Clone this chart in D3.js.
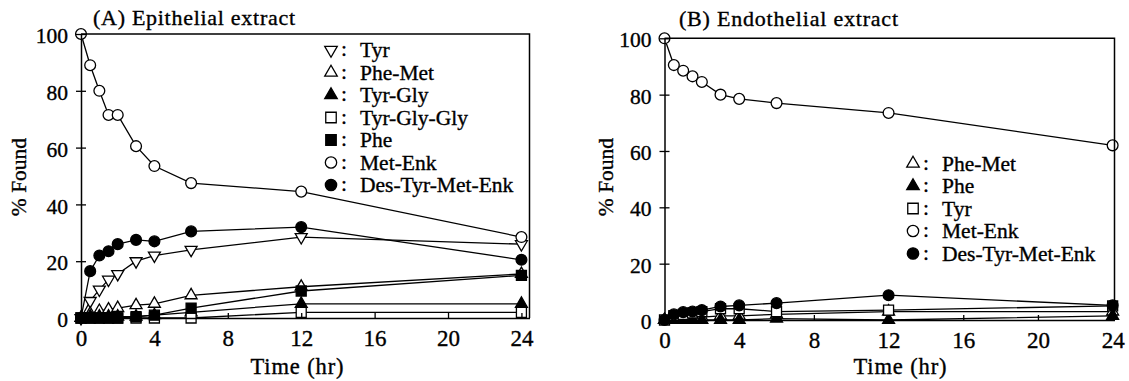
<!DOCTYPE html>
<html>
<head>
<meta charset="utf-8">
<script src="https://cdn.jsdelivr.net/npm/d3@7/dist/d3.min.js"></script>
<style>
  html, body { margin: 0; padding: 0; background: #fff; }
  svg { display: block; }
  svg text { fill: #000; stroke: #000; stroke-width: 0.35px; }
</style>
</head>
<body>
<svg id="chart" width="1129" height="381"></svg>
<script>
// Sampling times (hr)
const times = [0, 0.5, 1, 1.5, 2, 3, 4, 6, 12, 24];
const xTicks = [0, 4, 8, 12, 16, 20, 24];
const yTicks = [0, 20, 40, 60, 80, 100];

// (A) Epithelial extract, % found
const tyrA        = [0, 6, 10, 13.5, 15.5, 20, 22, 24, 28.5, 26];
const pheMetA     = [0, 1.5, 2.5, 3, 3.5, 4.5, 5, 8, 11, 15.5];
const tyrGlyA     = [0, 0.5, 0.5, 0.5, 0.5, 0.5, 1, 2, 5, 5];
const tyrGlyGlyA  = [0, 0, 0, 0, 0, 0, 0, 0, 2, 2];
const pheA        = [0, 0, 0, 0, 0, 0.5, 1, 3.5, 9.5, 15];
const metEnkA     = [100, 89, 80, 71.5, 71.5, 60.5, 53.5, 47.5, 44.5, 28.5];
const desTyrA     = [0, 16.5, 22, 23.5, 26, 27.5, 27, 30.5, 32, 20.5];

// (B) Endothelial extract, % found
const pheMetB     = [0, 0.5, 1, 1, 1, 1.5, 1.5, 2, 3, 3];
const pheB        = [0, 0, 0, 0, 0, 0, 0, 0.5, 0, 1.5];
const tyrB        = [0, 1.5, 2, 2.5, 3, 4, 4, 3, 3.5, 5];
const metEnkB     = [100, 90.5, 88.5, 86.5, 84.5, 80, 78.5, 77, 73.5, 62];
const desTyrB     = [0, 2, 2.8, 3, 3.5, 4.8, 5.2, 6, 8.8, 5.2];

// Series names and marker kinds
const namesA   = ["Tyr", "Phe-Met", "Tyr-Gly", "Tyr-Gly-Gly", "Phe", "Met-Enk", "Des-Tyr-Met-Enk"];
const markersA = ["triDownOpen", "triOpen", "triFilled", "squareOpen", "squareFilled", "circleOpen", "circleFilled"];
const valuesA  = [tyrA, pheMetA, tyrGlyA, tyrGlyGlyA, pheA, metEnkA, desTyrA];

const namesB   = ["Phe-Met", "Phe", "Tyr", "Met-Enk", "Des-Tyr-Met-Enk"];
const markersB = ["triOpen", "triFilled", "squareOpen", "circleOpen", "circleFilled"];
const valuesB  = [pheMetB, pheB, tyrB, metEnkB, desTyrB];

const FONT = "Liberation Serif";
const svg = d3.select("#chart");

function markerPath(kind, scale) {
  const s = scale || 1;
  if (kind.startsWith("circle")) return d3.symbol(d3.symbolCircle, 92 * s)();
  if (kind.startsWith("square")) return d3.symbol(d3.symbolSquare, 100 * s)();
  return d3.symbol(d3.symbolTriangle, 62 * s)();
}
function drawMarker(g, kind, x, y, scale) {
  const filled = kind.endsWith("Filled");
  const rot = kind.startsWith("triDown") ? " rotate(180)" : "";
  g.append("path")
    .attr("d", markerPath(kind, scale))
    .attr("transform", `translate(${x},${y})${rot}`)
    .attr("fill", filled ? "#000" : "#fff")
    .attr("stroke", "#000")
    .attr("stroke-width", 1.3);
}
function label(g, size) {
  return g.append("text").attr("font-family", FONT).attr("font-size", size || 21.5);
}

function drawPanel(cfg) {
  const g = svg.append("g");
  const x = d3.scaleLinear().domain([0, cfg.tMax]).range([cfg.left, cfg.right]);
  const y = d3.scaleLinear().domain([0, 100]).range([cfg.bottom, cfg.top]);
  const line = d3.line().x((d, i) => x(times[i])).y(d => y(d));

  // connecting lines
  cfg.values.forEach(vals => {
    g.append("path").datum(vals)
      .attr("d", line)
      .attr("fill", "none")
      .attr("stroke", "#000")
      .attr("stroke-width", 1.3);
  });
  // markers
  cfg.values.forEach((vals, k) => {
    vals.forEach((v, i) => drawMarker(g, cfg.markers[k], x(times[i]), y(v)));
  });

  // axes
  const yAxis = d3.axisLeft(y).tickValues(yTicks).tickSizeInner(5).tickSizeOuter(0).tickPadding(8);
  const ya = g.append("g").attr("transform", `translate(${cfg.left},0)`).call(yAxis)
    .attr("font-family", FONT).attr("font-size", 21.5);
  ya.selectAll(".tick line").attr("x1", -5).attr("x2", 5).attr("stroke-width", 1.3);
  ya.selectAll(".tick text").attr("dy", "0.4em");
  ya.select(".domain").attr("stroke-width", 1.5);

  const xAxis = d3.axisBottom(x).tickValues(xTicks).tickSizeInner(-5).tickSizeOuter(0).tickPadding(12);
  const xa = g.append("g").attr("transform", `translate(0,${cfg.bottom})`).call(xAxis)
    .attr("font-family", FONT).attr("font-size", 23);
  xa.selectAll(".tick line").attr("stroke-width", 1.3);
  xa.selectAll(".tick text").attr("dy", "0.68em");
  xa.select(".domain").attr("stroke-width", 1.5);

  // frame top and right
  g.append("path")
    .attr("d", `M${cfg.left},${cfg.top}H${cfg.right}V${cfg.bottom}`)
    .attr("fill", "none").attr("stroke", "#000").attr("stroke-width", 1.5);

  // titles
  label(g, 22).attr("x", cfg.titleX).attr("y", cfg.titleY)
    .attr("textLength", cfg.titleLen).attr("lengthAdjust", "spacing")
    .text(cfg.title);
  label(g, 22.5).attr("x", cfg.xLabelX).attr("y", 374).attr("text-anchor", "middle")
    .attr("textLength", 93).attr("lengthAdjust", "spacing")
    .text("Time (hr)");
  label(g, 21.5).attr("transform", `translate(${cfg.yLabelX},177) rotate(-90)`)
    .attr("text-anchor", "middle")
    .text("% Found");

  // legend
  cfg.names.forEach((nm, k) => {
    const cy = cfg.legY + k * cfg.legStep;
    drawMarker(g, cfg.markers[k], cfg.legX, cy, 1.1);
    label(g).attr("x", cfg.legX + 10).attr("y", cy + 6).text(":");
    label(g).attr("x", cfg.legX + 29).attr("y", cy + 7).text(nm);
  });
}

drawPanel({
  left: 81, right: 529.5, top: 34, bottom: 318, tMax: 24.44,
  values: valuesA, markers: markersA, names: namesA,
  title: "(A) Epithelial extract", titleX: 93, titleY: 25, titleLen: 202,
  xLabelX: 297, yLabelX: 26,
  legX: 331, legY: 50, legStep: 22.5
});

drawPanel({
  left: 664.5, right: 1114.5, top: 38.3, bottom: 320, tMax: 24.1,
  values: valuesB, markers: markersB, names: namesB,
  title: "(B) Endothelial extract", titleX: 679, titleY: 26, titleLen: 219,
  xLabelX: 900, yLabelX: 613,
  legX: 913, legY: 163.5, legStep: 22.5
});
</script>
</body>
</html>
